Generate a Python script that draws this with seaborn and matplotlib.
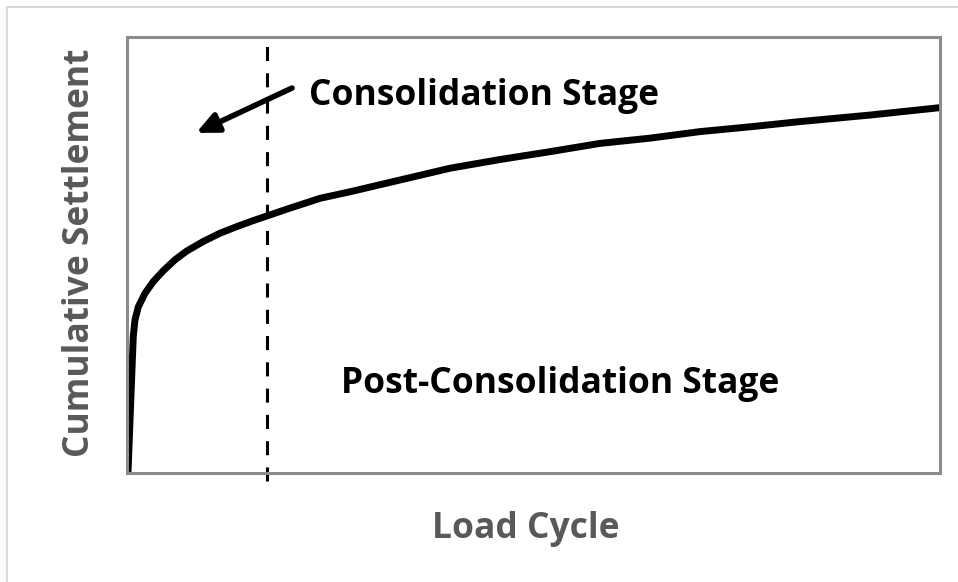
import matplotlib
matplotlib.use("Agg")
import matplotlib.pyplot as plt
import seaborn as sns
import pandas as pd
from matplotlib.lines import Line2D

# Data (arbitrary units 0-100)
load_cycle = [0.12, 0.77, 0.98, 1.39, 2.21, 3.23, 4.47, 5.90, 7.34, 9.38,
              11.44, 13.49, 15.54, 16.97, 19.64, 23.74, 27.43, 33.58, 39.73,
              45.88, 52.03, 58.18, 64.33, 70.48, 76.63, 82.78, 91.39, 100.0]
settlement = [0.0, 31.3, 35.1, 38.1, 41.2, 43.9, 46.4, 48.9, 50.9, 53.1,
              55.0, 56.5, 57.9, 58.8, 60.5, 63.0, 64.5, 67.2, 69.9,
              71.9, 73.7, 75.6, 76.8, 78.3, 79.4, 80.6, 82.1, 83.8]
boundary_cycle = 17.2
arrow_tail = (20.3, 88.3)
arrow_tip = (8.5, 78.0)
label_stage1 = "Consolidation Stage"
label_stage2 = "Post-Consolidation Stage"
x_label = "Load Cycle"
y_label = "Cumulative Settlement"

sns.set_style("white")
plt.rcParams["font.family"] = ["Open Sans", "DejaVu Sans"]

df = pd.DataFrame({"cycle": load_cycle, "settlement": settlement})

fig = plt.figure(figsize=(9.58, 5.82), dpi=100)
ax = fig.add_axes([127 / 958, 1 - 473 / 582, 813 / 958, 436 / 582])

sns.lineplot(data=df, x="cycle", y="settlement", ax=ax, color="black",
             linewidth=5, sort=False)
ax.set_xlim(0, 100)
ax.set_ylim(0, 100)

ax.axvline(boundary_cycle, ymin=-0.018, ymax=1, color="black", linewidth=2.2,
           dashes=(4.6, 4.0), clip_on=False)

ax.annotate("", xy=arrow_tip, xytext=arrow_tail,
            arrowprops=dict(arrowstyle="-|>,head_length=1.3,head_width=0.6",
                            color="black", lw=4, shrinkA=0, shrinkB=0))

ax.text(22.4, 86.5, label_stage1, fontsize=25.5, fontweight="bold",
        ha="left", va="center", color="black")
ax.text(53.3, 20.4, label_stage2, fontsize=25.5, fontweight="bold",
        ha="center", va="center", color="black")

ax.set_xticks([])
ax.set_yticks([])
ax.set_xlabel(x_label, fontsize=25.5, fontweight="bold", color="#595959", va="center")
ax.set_ylabel(y_label, fontsize=25.5, fontweight="bold", color="#595959", va="center")
ax.xaxis.set_label_coords(0.49, -0.128)
ax.yaxis.set_label_coords(-0.058, 0.505)

for s in ax.spines.values():
    s.set_color("#8c8c8c")
    s.set_linewidth(2.2)
    s.set_visible(True)

# light outer frame
fig.add_artist(Line2D([7 / 958, 7 / 958], [1 - 7 / 582, 0], transform=fig.transFigure,
                      color="#d9d9d9", linewidth=1.5))
fig.add_artist(Line2D([7 / 958, 1], [1 - 7 / 582, 1 - 7 / 582], transform=fig.transFigure,
                      color="#d9d9d9", linewidth=1.5))

fig.savefig("out.png", dpi=100, facecolor="white")
